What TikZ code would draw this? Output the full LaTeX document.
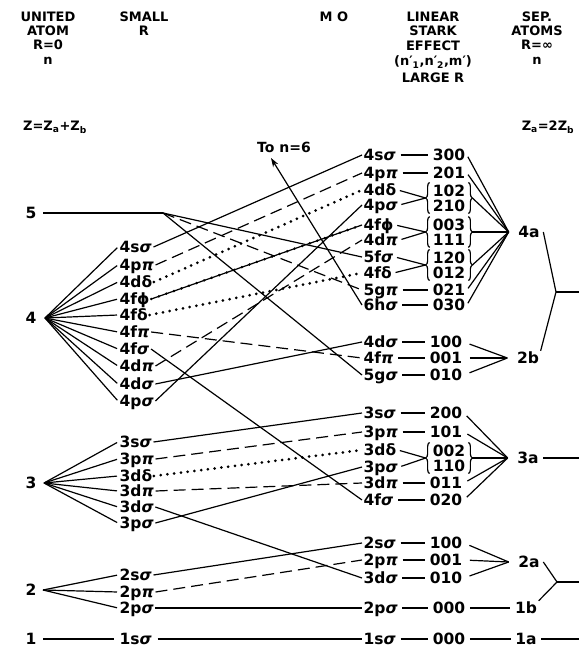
\documentclass[tikz,border=0pt]{standalone}
\usepackage{fontspec}
\setmainfont{DejaVu Sans}
\usetikzlibrary{arrows.meta,decorations.pathreplacing}
\newcommand{\Gs}{\textit{σ}}
\newcommand{\Gp}{\textit{π}}
\newcommand{\Gd}{δ}
\newcommand{\Gf}{ϕ}
\newcommand{\lblfont}{\fontsize{15.5}{15}\selectfont\bfseries}
\newcommand{\hdrfont}{\fontsize{13}{14}\selectfont\bfseries}
\begin{document}
\begin{tikzpicture}[x=1pt,y=-1pt,
  lab/.style={font=\lblfont, inner sep=1.5pt, text height=11pt, text depth=0pt},
  lw/.style={lab, anchor=west},
  hdr/.style={font=\hdrfont, inner sep=0pt},
  ln/.style={line width=1.2pt},
  dsh/.style={line width=1.2pt, dash pattern=on 12pt off 6pt},
  dts/.style={line width=3pt, dash pattern=on 0pt off 6.8pt, line cap=round},
  fdts/.style={line width=2.8pt, dash pattern=on 0pt off 8pt, line cap=round},
  brc/.style={decorate, decoration={brace, amplitude=4pt}, line width=1.2pt},
  pair/.style={font=\lblfont, align=center, inner xsep=3pt, inner ysep=2pt},
  gap/.style={line width=1.2pt, shorten <=3pt, shorten >=3pt},
]
\useasboundingbox (0,0) rectangle (579,647);
% headers
\node[hdr] (h1) at (48,17) {UNITED};
\node[hdr] (h2) at (48,31) {ATOM};
\node[hdr] (h3) at (48,45) {R=0};
\node[hdr] (h4) at (48,61) {n};
\node[hdr] (h5) at (144,17) {SMALL};
\node[hdr] (h6) at (144,31) {R};
\node[hdr] (h7) at (334,17) {M O};
\node[hdr] (h8) at (433,17) {LINEAR};
\node[hdr] (h9) at (433,31) {STARK};
\node[hdr] (h10) at (433,46) {EFFECT};
\node[hdr] (h11) at (433,62) {(n′\textsubscript{1},n′\textsubscript{2},m′)};
\node[hdr] (h12) at (433,78) {LARGE R};
\node[hdr] (h13) at (537,17) {SEP.};
\node[hdr] (h14) at (537,31) {ATOMS};
\node[hdr] (h15) at (537,45) {R=∞};
\node[hdr] (h16) at (537,61) {n};
\node[hdr] (h17) at (55,127) {Z=Z\textsubscript{a}+Z\textsubscript{b}};
\node[hdr] (h18) at (548,127) {Z\textsubscript{a}=2Z\textsubscript{b}};
% united atom
\node[lab] (u5) at (31,213) {5};
\node[lab] (u4) at (31,318) {4};
\node[lab] (u3) at (31,483) {3};
\node[lab] (u2) at (31,590) {2};
\node[lab] (u1) at (31,639) {1};
\coordinate (v5) at (163,213);
\coordinate (v4) at (45,318);
\coordinate (v3) at (44,483);
\coordinate (v2) at (43,590);
% small R
\node[lw] (s4s) at (118,247) {4s\Gs};
\node[lw] (s4pp) at (118,265) {4p\Gp};
\node[lw] (s4dd) at (118,282) {4d\Gd};
\node[lw] (s4ff) at (118,299) {4f\Gf};
\node[lw] (s4fd) at (118,315) {4f\Gd};
\node[lw] (s4fp) at (118,332) {4f\Gp};
\node[lw] (s4fs) at (118,349) {4f\Gs};
\node[lw] (s4dp) at (118,366) {4d\Gp};
\node[lw] (s4ds) at (118,384) {4d\Gs};
\node[lw] (s4ps) at (118,401) {4p\Gs};
\node[lw] (s3s) at (118,442) {3s\Gs};
\node[lw] (s3pp) at (118,459) {3p\Gp};
\node[lw] (s3dd) at (118,476) {3d\Gd};
\node[lw] (s3dp) at (118,491) {3d\Gp};
\node[lw] (s3ds) at (118,507) {3d\Gs};
\node[lw] (s3ps) at (118,523) {3p\Gs};
\node[lw] (s2s) at (118,575) {2s\Gs};
\node[lw] (s2pp) at (118,592) {2p\Gp};
\node[lw] (s2ps) at (118,608) {2p\Gs};
\node[lw] (s1s) at (118,639) {1s\Gs};
% MO
\node[lw] (m4s) at (362,155) {4s\Gs};
\node[lw] (m4pp) at (362,173) {4p\Gp};
\node[lw] (m4dd) at (362,190) {4d\Gd};
\node[lw] (m4ps) at (362,205) {4p\Gs};
\node[lw] (m4ff) at (362,225) {4f\Gf};
\node[lw] (m4dp) at (362,240) {4d\Gp};
\node[lw] (m5fs) at (362,257) {5f\Gs};
\node[lw] (m4fd) at (362,273) {4f\Gd};
\node[lw] (m5gp) at (362,290) {5g\Gp};
\node[lw] (m6hs) at (362,305) {6h\Gs};
\node[lw] (m4ds) at (362,342) {4d\Gs};
\node[lw] (m4fp) at (362,358) {4f\Gp};
\node[lw] (m5gs) at (362,375) {5g\Gs};
\node[lw] (m3s) at (362,413) {3s\Gs};
\node[lw] (m3pp) at (362,432) {3p\Gp};
\node[lw] (m3dd) at (362,450) {3d\Gd};
\node[lw] (m3ps) at (362,467) {3p\Gs};
\node[lw] (m3dp) at (362,483) {3d\Gp};
\node[lw] (m4fs) at (362,500) {4f\Gs};
\node[lw] (m2s) at (362,543) {2s\Gs};
\node[lw] (m2pp) at (362,560) {2p\Gp};
\node[lw] (m3ds) at (362,578) {3d\Gs};
\node[lw] (m2ps) at (362,608) {2p\Gs};
\node[lw] (m1s) at (362,639) {1s\Gs};
% Stark numbers
\node[lab] (n300) at (449,155) {300};
\node[lab] (n201) at (449,173) {201};
\node[pair] (p1) at (449,198) {102\\210};
\node[pair] (p2) at (449,232) {003\\111};
\node[pair] (p3) at (449,265) {120\\012};
\node[lab] (n021) at (449,290) {021};
\node[lab] (n030) at (449,305) {030};
\node[lab] (n100b) at (446,342) {100};
\node[lab] (n001b) at (446,358) {001};
\node[lab] (n010b) at (446,375) {010};
\node[lab] (n200) at (446,413) {200};
\node[lab] (n101) at (446,432) {101};
\node[pair] (p4) at (449,458) {002\\110};
\node[lab] (n011) at (446,483) {011};
\node[lab] (n020) at (446,500) {020};
\node[lab] (n100a) at (446,543) {100};
\node[lab] (n001a) at (446,560) {001};
\node[lab] (n010a) at (446,578) {010};
\node[lab] (n000b) at (449,608) {000};
\node[lab] (n000a) at (449,639) {000};
% separated atoms
\node[lab] (a4) at (529,232) {4a};
\node[lab] (b2) at (528,358) {2b};
\node[lab] (a3) at (528,458) {3a};
\node[lab] (a2) at (529,562) {2a};
\node[lab] (b1) at (526,608) {1b};
\node[lab] (a1) at (526,639) {1a};
\coordinate (j4) at (556,292);
\coordinate (e4) at (579,292);
\coordinate (j2) at (557,582);
\coordinate (e2) at (579,582);
\coordinate (e3) at (579,458);
\coordinate (e1) at (579,639);
% arrow to n=6
\node[hdr, font=\fontsize{14}{14}\selectfont\bfseries] (to6) at (284,147) {To n=6};
\coordinate (n6) at (271,158);
% braces
\foreach \p in {p1,p2,p3,p4}{
  \draw[brc] (\p.south west) -- (\p.north west);
  \draw[brc] (\p.north east) -- (\p.south east);
}
% UA lines
\draw[ln, shorten <=5pt] (u5.east) -- (v5);
\draw[ln, shorten <=5pt, shorten >=4pt] (u1.east) -- (s1s.west);
\foreach \t in {s4s,s4pp,s4dd,s4ff,s4fd,s4fp,s4fs,s4dp,s4ds,s4ps}
  \draw[ln, shorten >=1pt] (v4) -- (\t.west);
\foreach \t in {s3s,s3pp,s3dd,s3dp,s3ds,s3ps}
  \draw[ln, shorten >=1pt] (v3) -- (\t.west);
\foreach \t in {s2s,s2pp,s2ps}
  \draw[ln, shorten >=1pt] (v2) -- (\t.west);
% correlation lines
\draw[ln] (s4s.east) -- (m4s.west);
\draw[dsh] (s4pp.east) -- (m4pp.west);
\draw[dts] (s4dd.east) -- (m4dd.west);
\draw[ln] (s4ff.east) -- (m4ff.west);
\draw[fdts] (s4ff.east) -- (m4ff.west);
\draw[dts] (s4fd.east) -- (m4fd.west);
\draw[dsh] (s4fp.east) -- (m4fp.west);
\draw[ln] (s4fs.east) -- (m4fs.west);
\draw[dsh] (s4dp.east) -- (m4dp.west);
\draw[ln] (s4ds.east) -- (m4ds.west);
\draw[ln] (s4ps.east) -- (m4ps.west);
\draw[ln] (v5) -- (m5fs.west);
\draw[dsh] (v5) -- (m5gp.west);
\draw[ln] (v5) -- (m5gs.west);
\draw[ln, -{Stealth[length=9pt,width=6pt]}] (m6hs.west) -- (n6);
\draw[ln] (s3s.east) -- (m3s.west);
\draw[dsh] (s3pp.east) -- (m3pp.west);
\draw[dts] (s3dd.east) -- (m3dd.west);
\draw[dsh] (s3dp.east) -- (m3dp.west);
\draw[ln] (s3ds.east) -- (m3ds.west);
\draw[ln] (s3ps.east) -- (m3ps.west);
\draw[ln] (s2s.east) -- (m2s.west);
\draw[dsh] (s2pp.east) -- (m2pp.west);
\draw[ln] (s2ps.east) -- (m2ps.west);
\draw[ln, shorten <=4pt] (s1s.east) -- (m1s.west);
% MO to Stark
\foreach \m/\n in {m4s/n300,m4pp/n201,m5gp/n021,m6hs/n030,m4ds/n100b,m4fp/n001b,m5gs/n010b,m3s/n200,m3pp/n101,m3dp/n011,m4fs/n020,m2s/n100a,m2pp/n001a,m3ds/n010a,m2ps/n000b,m1s/n000a}
  \draw[gap] (\m.east) -- (\n.west);
\foreach \m/\p in {m4dd/p1,m4ps/p1,m4ff/p2,m4dp/p2,m5fs/p3,m4fd/p3,m3dd/p4,m3ps/p4}
  \draw[ln, shorten <=2pt] (\m.east) -- ([xshift=-4pt]\p.west);
% Stark to separated atoms
\foreach \n in {n300,n201,n021,n030}
  \draw[ln, shorten <=2pt] (\n.east) -- ([xshift=-8pt]a4.west);
\foreach \p in {p1,p2,p3}
  \draw[ln] ([xshift=4pt]\p.east) -- ([xshift=-8pt]a4.west);
\foreach \n in {n100b,n001b,n010b}
  \draw[ln, shorten <=6pt] (\n.east) -- ([xshift=-8pt]b2.west);
\foreach \n in {n200,n101,n011,n020}
  \draw[ln, shorten <=4pt] (\n.east) -- ([xshift=-8pt]a3.west);
\draw[ln] ([xshift=4pt]p4.east) -- ([xshift=-8pt]a3.west);
\foreach \n in {n100a,n001a,n010a}
  \draw[ln, shorten <=6pt] (\n.east) -- ([xshift=-8pt]a2.west);
\draw[gap] (n000b.east) -- (b1.west);
\draw[gap] (n000a.east) -- (a1.west);
% right side junctions
\draw[ln] ([xshift=2pt]a4.east) -- (j4) -- (b2.north east);
\draw[ln] (j4) -- (e4);
\draw[ln] ([xshift=2pt]a2.east) -- (j2) -- (b1.north east);
\draw[ln] (j2) -- (e2);
\draw[ln, shorten <=3pt] (a3.east) -- (e3);
\draw[ln, shorten <=3pt] (a1.east) -- (e1);
\end{tikzpicture}
\end{document}
